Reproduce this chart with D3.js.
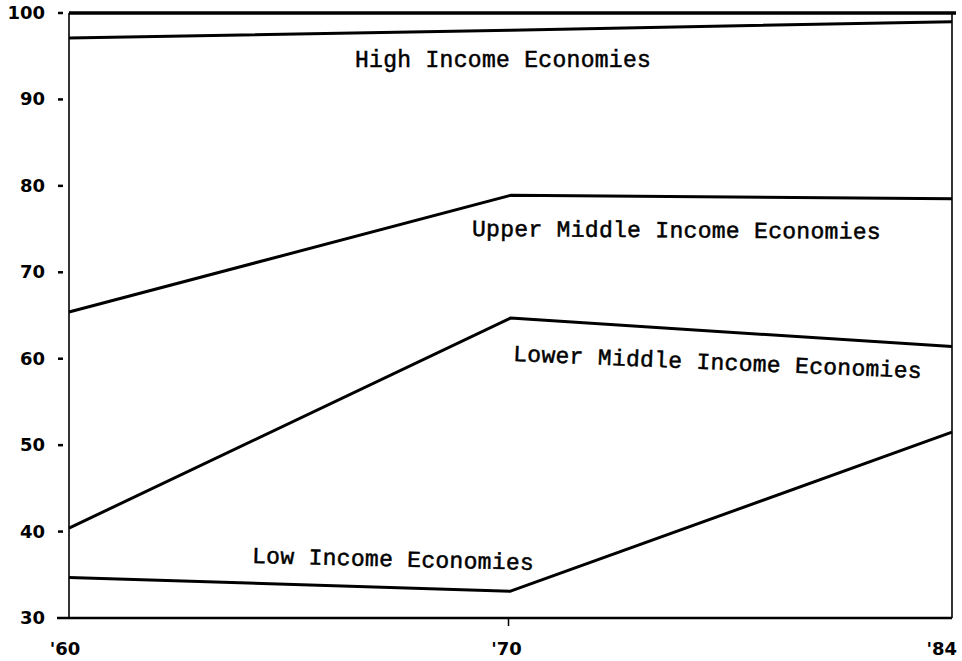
<!DOCTYPE html>
<html>
<head>
<meta charset="utf-8">
<script src="https://cdn.jsdelivr.net/npm/d3@7"></script>
<style>
  html, body { margin: 0; padding: 0; background: #fff; }
  svg { display: block; }
</style>
</head>
<body>
<svg id="chart" width="962" height="661"></svg>
<script>
// ---- data ----
const years = ["'60", "'70", "'84"];
const yTicks = [30, 40, 50, 60, 70, 80, 90, 100];
const seriesNames = [
  "High Income Economies",
  "Upper Middle Income Economies",
  "Lower Middle Income Economies",
  "Low Income Economies"
];
const highIncome = [97.1, 98.0, 99.0];
const upperMiddle = [65.4, 78.9, 78.5];
const lowerMiddle = [40.4, 64.7, 61.4];
const lowIncome = [34.7, 33.1, 51.5];
const seriesValues = [highIncome, upperMiddle, lowerMiddle, lowIncome];

// ---- layout ----
const svg = d3.select("#chart");
const plotLeft = 69, plotRight = 952, plotTop = 13, plotBottom = 618;

const x = d3.scalePoint().domain(years).range([plotLeft, plotRight]);
const y = d3.scaleLinear().domain([30, 100]).range([plotBottom, plotTop]);

// frame: top line at 100, right side, bottom axis
svg.append("line")
  .attr("x1", plotLeft).attr("x2", plotRight + 4)
  .attr("y1", y(100)).attr("y2", y(100))
  .attr("stroke", "#000").attr("stroke-width", 3.4);
svg.append("line")
  .attr("x1", plotRight).attr("x2", plotRight)
  .attr("y1", y(100)).attr("y2", y(30))
  .attr("stroke", "#000").attr("stroke-width", 1.6);
svg.append("line")
  .attr("x1", plotLeft - 12).attr("x2", plotRight)
  .attr("y1", y(30)).attr("y2", y(30))
  .attr("stroke", "#000").attr("stroke-width", 2.6);
svg.append("line")
  .attr("x1", plotLeft).attr("x2", plotLeft)
  .attr("y1", y(100)).attr("y2", y(30))
  .attr("stroke", "#000").attr("stroke-width", 1.6);

// y ticks (short dashes detached from axis) and labels
const yAxis = svg.append("g").attr("class", "y-axis");
yAxis.selectAll("line.tick")
  .data(yTicks.filter(d => d !== 30))
  .join("line")
  .attr("x1", plotLeft - 11).attr("x2", plotLeft - 6)
  .attr("y1", d => y(d)).attr("y2", d => y(d))
  .attr("stroke", "#000").attr("stroke-width", 2.5);
yAxis.selectAll("text")
  .data(yTicks)
  .join("text")
  .attr("x", 45)
  .attr("y", d => y(d) + 1)
  .attr("text-anchor", "end")
  .attr("dominant-baseline", "middle")
  .attr("font-family", "'DejaVu Sans', sans-serif")
  .attr("font-weight", "bold")
  .attr("font-size", 18)
  .text(d => d);

// x ticks and labels
const xAxis = svg.append("g").attr("class", "x-axis");
xAxis.selectAll("line")
  .data(years.slice(1, 2))
  .join("line")
  .attr("x1", d => x(d) - 2).attr("x2", d => x(d) - 2)
  .attr("y1", y(30)).attr("y2", y(30) + 8)
  .attr("stroke", "#000").attr("stroke-width", 1.5);
xAxis.selectAll("text")
  .data(years)
  .join("text")
  .attr("x", (d, i) => i === years.length - 1 ? x(d) + 5 : x(d) - 4)
  .attr("y", 655)
  .attr("text-anchor", (d, i) => i === years.length - 1 ? "end" : "middle")
  .attr("font-family", "'DejaVu Sans', sans-serif")
  .attr("font-weight", "bold")
  .attr("font-size", 18)
  .text(d => d);

// series lines
const line = d3.line()
  .x((d, i) => x(years[i]))
  .y(d => y(d));
svg.append("g").selectAll("path")
  .data(seriesValues)
  .join("path")
  .attr("d", d => line(d))
  .attr("fill", "none")
  .attr("stroke", "#000")
  .attr("stroke-width", 3)
  .attr("stroke-linejoin", "round");

// series labels
const labelPos = [
  { x: 355, y: 67, rot: 0 },
  { x: 472, y: 236, rot: 0.4 },
  { x: 513, y: 361, rot: 2.4 },
  { x: 252, y: 563, rot: 1.4 }
];
svg.append("g").selectAll("text")
  .data(seriesNames)
  .join("text")
  .attr("transform", (d, i) => `translate(${labelPos[i].x},${labelPos[i].y}) rotate(${labelPos[i].rot})`)
  .attr("font-family", "'Liberation Mono', 'Courier New', monospace")
  .attr("font-size", 23)
  .attr("letter-spacing", 0.3)
  .attr("stroke", "#000")
  .attr("stroke-width", 0.5)
  .text(d => d);
</script>
</body>
</html>
